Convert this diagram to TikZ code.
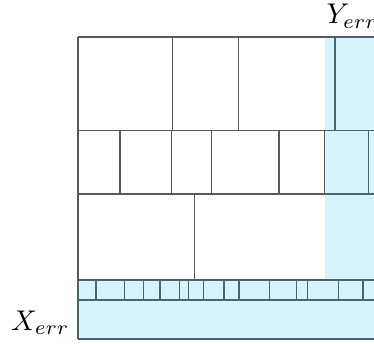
\documentclass[tikz,border=0pt]{standalone}
\begin{document}
\begin{tikzpicture}[x=1pt,y=-1pt,
  gridline/.style={draw=black!65, line width=1.3pt},
  errband/.style={fill=cyan, fill opacity=0.15},
  lbl/.style={inner sep=0pt, scale=2.85}]
\useasboundingbox (0,0) rectangle (374,344);
\begin{scope}
\clip (0,0) rectangle (374,344);
% horizontal lines
\foreach \y in {37,130.7,194,280,300,339}
  \draw[gridline] (78,\y) -- (390,\y);
\draw[gridline] (78,37) -- (78,339);
% row 1
\foreach \x in {172.7,238.7,335}
  \draw[gridline] (\x,37) -- (\x,130.7);
% row 2
\foreach \x in {120,171.7,211.3,279,324.3,368.3}
  \draw[gridline] (\x,130.7) -- (\x,194);
% row 3
\draw[gridline] (194.3,194) -- (194.3,280);
% thin row
\foreach \x in {96,124.7,143.7,160,179.7,188.3,203.3,224,239,269.7,296.7,307.3,338.3,363}
  \draw[gridline] (\x,280) -- (\x,300);
% error bands
\fill[errband] (325,37) rectangle (390,280);
\fill[errband] (78,280) rectangle (390,339);
\end{scope}
\node[lbl, anchor=base west] (yerr) at (326,24) {$Y_{err}$};
\node[lbl, anchor=base east] (xerr) at (70,330) {$X_{err}$};
\end{tikzpicture}
\end{document}
